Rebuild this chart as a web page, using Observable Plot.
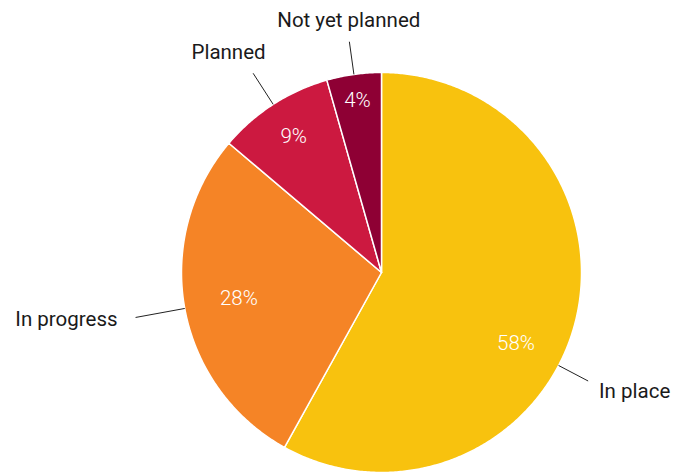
<!DOCTYPE html>
<html>
<head>
<meta charset="utf-8">
<script src="https://cdn.jsdelivr.net/npm/d3@7"></script>
<script src="https://cdn.jsdelivr.net/npm/@observablehq/plot@0.6"></script>
<style>
  html, body { margin: 0; padding: 0; background: #fff; }
  #chart svg { display: block; }
</style>
</head>
<body>
<div id="chart"></div>
<script>
// ---- Data ----
const categories = ["In place", "In progress", "Planned", "Not yet planned"];
const values = [58.0, 28.1, 9.4, 4.4];
const colors = ["#F8C20E", "#F58426", "#CC1940", "#8E0034"];

// ---- Layout (polar, in units of the pie radius / degrees) ----
const labelAngleShift = [13.2, 0, 0, 0];       // leader/percent angle shift from slice middle
const pctRadius = [0.76, 0.725, 0.81, 0.87];
const leaderOuter = [1.167, 1.25, 1.185, 1.165];
const textAngle = [118.7, 260, 325.2, 352.6];
const textRadius = [1.24, 1.34, 1.34, 1.27];
const textAnchor = ["start", "end", "middle", "middle"];

const total = d3.sum(values);
const rad = d => d * Math.PI / 180;
const polar = (deg, r) => ({x: r * Math.sin(rad(deg)), y: r * Math.cos(rad(deg))});

// slice angles, clockwise from top
let acc = 0;
const slices = categories.map((name, i) => {
  const a0 = acc / total * 360;
  acc += values[i];
  const a1 = acc / total * 360;
  return {name, i, a0, a1, mid: (a0 + a1) / 2, pct: Math.round(values[i] / total * 100) + "%"};
});

// polygon points for each slice
const polyPts = [];
for (const s of slices) {
  polyPts.push({name: s.name, ...polar(0, 0)});
  const n = Math.max(2, Math.ceil((s.a1 - s.a0) / 0.5));
  for (let k = 0; k <= n; k++) {
    const a = s.a0 + (s.a1 - s.a0) * k / n;
    polyPts.push({name: s.name, ...polar(a, 1)});
  }
  polyPts.push({name: s.name, ...polar(0, 0)});
}

const pctLabels = slices.map(s => ({text: s.pct, ...polar(s.mid + labelAngleShift[s.i], pctRadius[s.i])}));
const leaders = slices.map(s => {
  const a = s.mid + labelAngleShift[s.i];
  const p1 = polar(a, 1), p2 = polar(a, leaderOuter[s.i]);
  return {x1: p1.x, y1: p1.y, x2: p2.x, y2: p2.y};
});
const outerLabels = slices.map(s => ({text: s.name, anchor: textAnchor[s.i], ...polar(textAngle[s.i], textRadius[s.i])}));

const font = "Roboto, 'Noto Sans', sans-serif";

const chart = Plot.plot({
  width: 684,
  height: 474,
  marginLeft: 181,
  marginRight: 103,
  marginTop: 72,
  marginBottom: 2,
  x: {domain: [-1, 1], axis: null},
  y: {domain: [-1, 1], axis: null},
  color: {domain: categories, range: colors},
  style: {fontFamily: font, background: "#fff"},
  marks: [
    Plot.line(polyPts, {x: "x", y: "y", z: "name", fill: "name", stroke: "#fff", strokeWidth: 1.5, strokeLinejoin: "round", curve: "linear"}),
    Plot.link(leaders, {x1: "x1", y1: "y1", x2: "x2", y2: "y2", stroke: "#222", strokeWidth: 1}),
    Plot.text(pctLabels, {x: "x", y: "y", text: "text", fill: "#fff", fontSize: 20.5, fontWeight: 300}),
    ...["start", "end", "middle"].map(anchor =>
      Plot.text(outerLabels.filter(d => d.anchor === anchor), {x: "x", y: "y", text: "text", fill: "#1a1a1a", fontSize: 20.5, textAnchor: anchor})
    )
  ]
});
document.getElementById("chart").appendChild(chart);
</script>
</body>
</html>
